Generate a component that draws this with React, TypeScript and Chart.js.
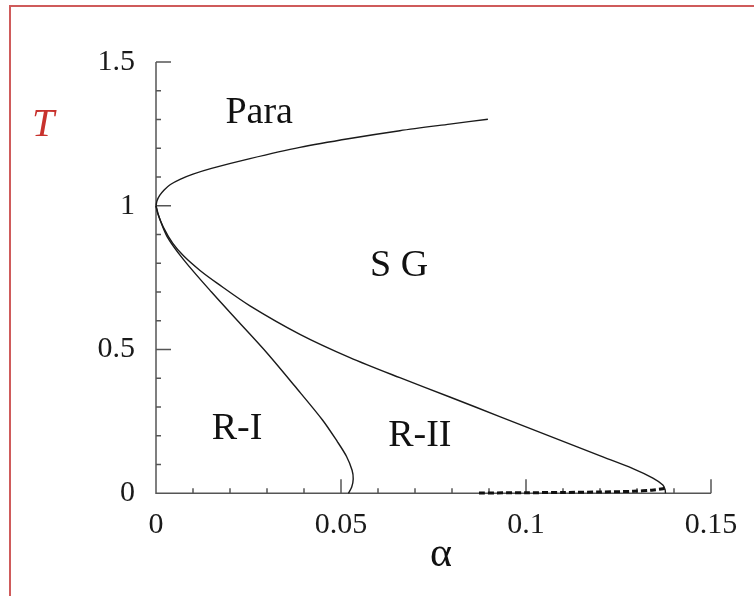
import React, { useEffect, useRef } from "react";
import { Chart, registerables } from "chart.js";

Chart.register(...registerables);

// Para / SG boundary
const paraAlpha = [0, 0.0003, 0.001, 0.0022, 0.0039, 0.0065, 0.01, 0.015, 0.0254, 0.0389, 0.0524, 0.0659, 0.0794, 0.0897];
const paraT = [1.0, 1.018, 1.036, 1.055, 1.074, 1.092, 1.11, 1.13, 1.164, 1.203, 1.234, 1.261, 1.284, 1.301];

// SG / R-II boundary
const sgAlpha = [0, 0.0005, 0.002, 0.0045, 0.0075, 0.0119, 0.0165, 0.0254, 0.0389, 0.0524, 0.0659, 0.0794, 0.0929, 0.1064, 0.1199, 0.1289, 0.1343, 0.137, 0.1376, 0.1377];
const sgT = [1.0, 0.972, 0.925, 0.87, 0.825, 0.775, 0.731, 0.652, 0.553, 0.472, 0.402, 0.335, 0.267, 0.199, 0.131, 0.086, 0.053, 0.029, 0.012, 0.0];

// R-I boundary
const r1Alpha = [0, 0.0008, 0.003, 0.0075, 0.015, 0.0225, 0.03, 0.0375, 0.045, 0.049, 0.0515, 0.053, 0.0533, 0.0529, 0.052];
const r1T = [1.0, 0.962, 0.893, 0.812, 0.7, 0.594, 0.488, 0.373, 0.255, 0.18, 0.128, 0.08, 0.05, 0.022, 0.0];

// dashed line near T = 0
const dashAlpha = [0.0873, 0.1, 0.11, 0.12, 0.129, 0.134, 0.137, 0.1378];
const dashT = [0.001, 0.002, 0.003, 0.0045, 0.007, 0.011, 0.016, 0.019];

const xTickValues = [0, 0.05, 0.1, 0.15];
const xTickLabels = ["0", "0.05", "0.1", "0.15"];
const yTickValues = [0, 0.5, 1, 1.5];
const yTickLabels = ["0", "0.5", "1", "1.5"];

const regionNames = ["Para", "S G", "R-I", "R-II"];
const regionAlpha = [0.0279, 0.0657, 0.0219, 0.0713];
const regionT = [1.322, 0.791, 0.224, 0.2];

const xTitle = "α";
const yTitle = "T";

const SERIF = "'Liberation Serif', 'Times New Roman', serif";

const toPts = (xs: number[], ys: number[]) => xs.map((v, i) => ({ x: v, y: ys[i] }));

const decorPlugin = {
  id: "decor",
  beforeDatasetsDraw(chart: any) {
    const { ctx, chartArea: a, scales } = chart;
    const x = scales.x;
    const y = scales.y;
    ctx.save();
    ctx.strokeStyle = "#555";
    ctx.lineWidth = 1.5;
    ctx.beginPath();
    ctx.moveTo(a.left, a.top);
    ctx.lineTo(a.left, a.bottom);
    ctx.lineTo(a.right, a.bottom);
    for (let i = 0; i <= 15; i++) {
      const px = x.getPixelForValue(i * 0.01);
      const len = i % 5 === 0 ? 14 : 5;
      ctx.moveTo(px, a.bottom);
      ctx.lineTo(px, a.bottom - len);
    }
    for (let i = 0; i <= 15; i++) {
      const py = y.getPixelForValue(i * 0.1);
      const len = i % 5 === 0 ? 15 : 5;
      ctx.moveTo(a.left, py);
      ctx.lineTo(a.left + len, py);
    }
    ctx.stroke();
    ctx.restore();
  },
  afterDraw(chart: any) {
    const { ctx, chartArea: a, scales } = chart;
    const x = scales.x;
    const y = scales.y;
    ctx.save();
    ctx.textAlign = "center";
    ctx.textBaseline = "middle";
    ctx.fillStyle = "#111";
    ctx.font = `38px ${SERIF}`;
    regionNames.forEach((n, i) => {
      ctx.fillText(n, x.getPixelForValue(regionAlpha[i]), y.getPixelForValue(regionT[i]));
    });
    ctx.font = `42px ${SERIF}`;
    ctx.fillText(xTitle, x.getPixelForValue(0.077), a.bottom + 62);
    ctx.fillStyle = "#c8322d";
    ctx.font = `italic 40px ${SERIF}`;
    ctx.fillText(yTitle, a.left - 113, a.top + 63);
    ctx.restore();
  },
};

export default function App() {
  const ref = useRef<HTMLCanvasElement | null>(null);

  useEffect(() => {
    document.body.style.margin = "0";
    document.body.style.overflow = "hidden";
    const canvas = ref.current;
    if (!canvas) return;
    const solid = { borderColor: "#1a1a1a", borderWidth: 1.4, pointRadius: 0, showLine: true, tension: 0.3, clip: false as any, fill: false };
    const chart = new Chart(canvas, {
      type: "scatter",
      data: {
        datasets: [
          { ...solid, label: "Para-SG", data: toPts(paraAlpha, paraT) },
          { ...solid, label: "SG-RII", data: toPts(sgAlpha, sgT) },
          { ...solid, label: "RI", data: toPts(r1Alpha, r1T) },
          {
            label: "dashed",
            data: toPts(dashAlpha, dashT),
            borderColor: "#111",
            borderWidth: 3,
            borderDash: [6, 3],
            pointRadius: 0,
            showLine: true,
            tension: 0.3,
            clip: false as any,
          },
        ],
      },
      options: {
        animation: false,
        responsive: false,
        devicePixelRatio: 1,
        layout: { padding: { left: 0, right: 43, top: 62, bottom: 0 } },
        plugins: { legend: { display: false }, tooltip: { enabled: false } },
        events: [],
        scales: {
          x: {
            type: "linear",
            min: 0,
            max: 0.15,
            grid: { display: false, drawTicks: false },
            border: { display: false },
            afterBuildTicks: (s: any) => {
              s.ticks = xTickValues.map((v) => ({ value: v }));
            },
            afterFit: (s: any) => {
              s.height = 102.7;
            },
            ticks: {
              padding: 14,
              color: "#1a1a1a",
              font: { family: SERIF, size: 30 },
              maxRotation: 0,
              autoSkip: false,
              callback: (v: any) => {
                const i = xTickValues.findIndex((t) => Math.abs(t - Number(v)) < 1e-9);
                return i >= 0 ? xTickLabels[i] : "";
              },
            },
          },
          y: {
            type: "linear",
            min: 0,
            max: 1.5,
            grid: { display: false, drawTicks: false },
            border: { display: false },
            afterBuildTicks: (s: any) => {
              s.ticks = yTickValues.map((v) => ({ value: v }));
            },
            afterFit: (s: any) => {
              s.width = 156;
            },
            ticks: {
              padding: 21,
              color: "#1a1a1a",
              font: { family: SERIF, size: 30 },
              autoSkip: false,
              callback: (v: any) => {
                const i = yTickValues.findIndex((t) => Math.abs(t - Number(v)) < 1e-9);
                return i >= 0 ? yTickLabels[i] : "";
              },
            },
          },
        },
      },
      plugins: [decorPlugin],
    });
    return () => chart.destroy();
  }, []);

  return (
    <div style={{ position: "fixed", left: 0, top: 0, width: 754, height: 596, overflow: "hidden", background: "#fff" }}>
      <canvas ref={ref} width={754} height={596} style={{ position: "absolute", left: 0, top: 0, width: 754, height: 596 }} />
      <div
        style={{
          position: "absolute",
          left: 9,
          top: 5,
          width: 1000,
          height: 1000,
          borderTop: "2px solid #cf5b5b",
          borderLeft: "2px solid #cf5b5b",
          pointerEvents: "none",
        }}
      />
    </div>
  );
}
